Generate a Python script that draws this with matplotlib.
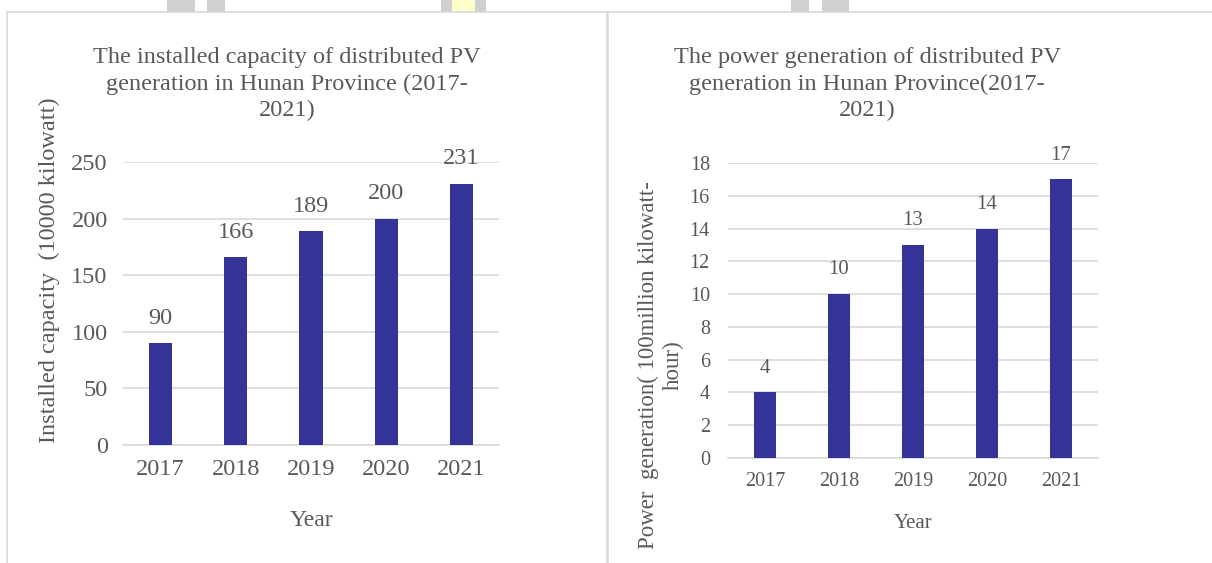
import matplotlib
matplotlib.use("Agg")
import matplotlib.pyplot as plt
from matplotlib.patches import Rectangle

years = ["2017", "2018", "2019", "2020", "2021"]
capacity = [90, 166, 189, 200, 231]
generation = [4, 10, 13, 14, 17]
cap_ticks = [0, 50, 100, 150, 200, 250]
gen_ticks = [0, 2, 4, 6, 8, 10, 12, 14, 16, 18]

W, H = 1212, 563
BAR = "#333399"
TXT = "#595959"
GRID = "#d9d9d9"

plt.rcParams["font.family"] = ["Liberation Serif", "DejaVu Serif"]

fig = plt.figure(figsize=(W / 100, H / 100), dpi=100)


def fx(px):
    return px / W


def fy(py):
    return 1 - py / H


# decorative artefacts at top
for x0, x1, c in [(167, 195, "#d0d0d0"), (207, 225, "#d0d0d0"), (441, 452, "#d0d0d0"),
                  (452, 475, "#ffffcc"), (475, 486, "#d0d0d0"),
                  (791, 809, "#d0d0d0"), (822, 849, "#d0d0d0")]:
    fig.add_artist(Rectangle((fx(x0), fy(12)), fx(x1 - x0), 12 / H, transform=fig.transFigure,
                             facecolor=c, edgecolor="none"))

# panel borders
for x0, x1 in [(7, 608), (607, 1214)]:
    fig.add_artist(Rectangle((fx(x0), fy(570)), fx(x1 - x0), (570 - 12) / H, transform=fig.transFigure,
                             facecolor="none", edgecolor=GRID, lw=1.2))


def make_panel(l, r, b, t, vals, ticks, tick_fs, lab_fs, off_pt, ypad):
    ax = fig.add_axes([fx(l), fy(b), fx(r - l), (b - t) / H])
    x = list(range(len(years)))
    ax.bar(x, vals, width=0.31, color=BAR, zorder=3)
    ax.set_xlim(-0.5, len(years) - 0.5)
    ax.set_ylim(ticks[0], ticks[-1])
    ax.set_yticks(ticks)
    ax.set_xticks(x)
    ax.set_xticklabels(years)
    ax.yaxis.grid(True, color=GRID, lw=1.2, zorder=0)
    for s in ["top", "right", "left"]:
        ax.spines[s].set_visible(False)
    ax.spines["bottom"].set_color(GRID)
    ax.spines["bottom"].set_linewidth(1.2)
    ax.tick_params(axis="both", length=0, colors=TXT, labelsize=tick_fs)
    ax.tick_params(axis="y", pad=ypad)
    ax.tick_params(axis="x", pad=10)
    for xi, v in zip(x, vals):
        ax.annotate(str(v), (xi, v), xytext=(0, off_pt), textcoords="offset points",
                    ha="center", va="center", fontsize=lab_fs, color=TXT)
    return ax


ax1 = make_panel(123, 499, 445, 162, capacity, cap_ticks, 17.5, 17.5, 18, 11)
ax2 = make_panel(728, 1098, 458, 163, generation, gen_ticks, 14.5, 15, 17.5, 13)

# titles
fig.text(fx(287), fy(84), "The installed capacity of distributed PV\ngeneration in Hunan Province (2017-\n2021)",
         ha="center", va="center", fontsize=17.5, color=TXT, linespacing=1.35)
fig.text(fx(867), fy(84), "The power generation of distributed PV\ngeneration in Hunan Province(2017-\n2021)",
         ha="center", va="center", fontsize=17.5, color=TXT, linespacing=1.35)

# x axis labels
fig.text(fx(311), fy(520), "Year", ha="center", va="center", fontsize=17, color=TXT)
fig.text(fx(913), fy(523), "Year", ha="center", va="center", fontsize=15, color=TXT)

# y axis labels
fig.text(fx(49), fy(270), "Installed capacity  (10000 kilowatt)", rotation=90,
         ha="center", va="center", fontsize=17.5, color=TXT)
fig.text(fx(661), fy(365), "Power  generation( 100million kilowatt-\nhour)", rotation=90,
         ha="center", va="center", fontsize=16.5, color=TXT, linespacing=1.2, multialignment="center")

fig.savefig("out.png", dpi=100)
